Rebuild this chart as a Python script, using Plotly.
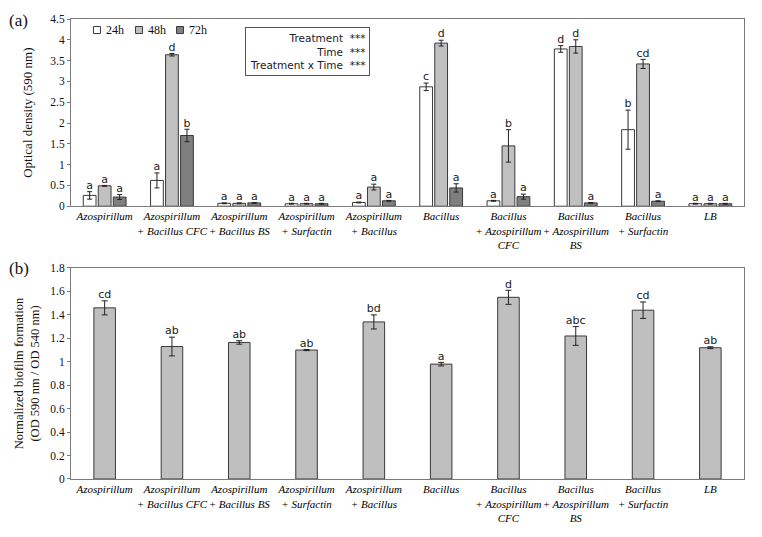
import plotly.graph_objects as go
from plotly.subplots import make_subplots

categories = [
    "Azospirillum",
    "Azospirillum<br>+ Bacillus CFC",
    "Azospirillum<br>+ Bacillus BS",
    "Azospirillum<br>+ Surfactin",
    "Azospirillum<br>+ Bacillus",
    "Bacillus",
    "Bacillus<br>+ Azospirillum<br>CFC",
    "Bacillus<br>+ Azospirillum<br>BS",
    "Bacillus<br>+ Surfactin",
    "LB",
]

od_24h = [0.26, 0.62, 0.07, 0.06, 0.09, 2.87, 0.13, 3.78, 1.84, 0.06]
od_24h_err = [0.09, 0.18, 0.01, 0.01, 0.01, 0.09, 0.01, 0.08, 0.47, 0.01]
od_24h_letters = ["a", "a", "a", "a", "a", "c", "a", "d", "b", "a"]

od_48h = [0.49, 3.64, 0.07, 0.06, 0.46, 3.92, 1.45, 3.84, 3.42, 0.06]
od_48h_err = [0.01, 0.03, 0.01, 0.01, 0.07, 0.07, 0.39, 0.16, 0.11, 0.01]
od_48h_letters = ["a", "d", "a", "a", "a", "d", "b", "d", "cd", "a"]

od_72h = [0.22, 1.70, 0.08, 0.06, 0.13, 0.44, 0.23, 0.08, 0.12, 0.06]
od_72h_err = [0.06, 0.15, 0.01, 0.01, 0.01, 0.10, 0.06, 0.01, 0.01, 0.01]
od_72h_letters = ["a", "b", "a", "a", "a", "a", "a", "a", "a", "a"]

norm_biofilm = [1.46, 1.13, 1.165, 1.10, 1.34, 0.98, 1.55, 1.22, 1.44, 1.12]
norm_err = [0.06, 0.08, 0.015, 0.005, 0.06, 0.015, 0.06, 0.08, 0.07, 0.008]
norm_letters = ["cd", "ab", "ab", "ab", "bd", "a", "d", "abc", "cd", "ab"]

yticks_a = [0, 0.5, 1, 1.5, 2, 2.5, 3, 3.5, 4, 4.5]
ytick_labels_a = ["0", "0.5", "1", "1.5", "2", "2.5", "3", "3.5", "4", "4.5"]
yticks_b = [0, 0.2, 0.4, 0.6, 0.8, 1, 1.2, 1.4, 1.6, 1.8]
ytick_labels_b = ["0", "0.2", "0.4", "0.6", "0.8", "1", "1.2", "1.4", "1.6", "1.8"]

series_names = ["24h", "48h", "72h"]
series_colors = ["#ffffff", "#c0c0c0", "#7f7f7f"]

xpos = list(range(len(categories)))
tick_text = ["<i>" + c.replace("<br>", "</i><br><i>") + "</i>" for c in categories]

SERIF = "Liberation Serif, Times New Roman, serif"
SANS = "DejaVu Sans, Verdana, sans-serif"
EDGE = "#3a3a3a"
FRAME = "#7a7a7a"

fig = make_subplots(rows=2, cols=1, shared_xaxes=False, vertical_spacing=0.13)

bw = 0.19
step = 0.223
series = [
    (od_24h, od_24h_err, od_24h_letters, -step),
    (od_48h, od_48h_err, od_48h_letters, 0.0),
    (od_72h, od_72h_err, od_72h_letters, step),
]

for (vals, errs, letters, off), name, color in zip(series, series_names, series_colors):
    fig.add_trace(go.Bar(
        x=xpos, y=vals, name=name, width=bw, offset=off - bw / 2,
        marker=dict(color=color, line=dict(color=EDGE, width=1)),
        error_y=dict(type="data", array=errs, color="#222", thickness=1, width=2.5),
        showlegend=False,
    ), row=1, col=1)
    fig.add_trace(go.Scatter(
        x=[p + off for p in xpos], y=[v + e for v, e in zip(vals, errs)],
        mode="text", text=letters, textposition="top center",
        textfont=dict(family=SANS, size=11, color="#222"),
        showlegend=False, hoverinfo="skip", cliponaxis=False,
    ), row=1, col=1)

fig.add_trace(go.Bar(
    x=xpos, y=norm_biofilm, width=0.32, showlegend=False,
    marker=dict(color="#bfbfbf", line=dict(color=EDGE, width=1)),
    error_y=dict(type="data", array=norm_err, color="#222", thickness=1, width=3),
), row=2, col=1)
fig.add_trace(go.Scatter(
    x=xpos, y=[v + e for v, e in zip(norm_biofilm, norm_err)],
    mode="text", text=norm_letters, textposition="top center",
    textfont=dict(family=SANS, size=11, color="#222"),
    showlegend=False, hoverinfo="skip", cliponaxis=False,
), row=2, col=1)

axis_common = dict(showline=True, linecolor=FRAME, linewidth=1, mirror=True,
                   showgrid=False, zeroline=False, automargin=False)
for r in (1, 2):
    fig.update_xaxes(range=[-0.5, 9.5], tickvals=xpos, ticktext=tick_text,
                     ticks="", tickangle=0,
                     tickfont=dict(family=SERIF, size=11, color="#000"),
                     row=r, col=1, **axis_common)

fig.update_yaxes(range=[0, 4.5], tickvals=yticks_a, ticktext=ytick_labels_a,
                 ticks="outside", ticklen=3, tickcolor=FRAME,
                 tickfont=dict(family=SERIF, size=11.5, color="#111"),
                 title=dict(text="Optical density (590 nm)", font=dict(family=SERIF, size=13, color="#111"), standoff=14),
                 row=1, col=1, **axis_common)
fig.update_yaxes(range=[0, 1.8], tickvals=yticks_b, ticktext=ytick_labels_b,
                 ticks="outside", ticklen=3, tickcolor=FRAME,
                 tickfont=dict(family=SERIF, size=11.5, color="#111"),
                 title=dict(text="Normalized biofilm formation<br>(OD 590 nm / OD 540 nm)",
                            font=dict(family=SERIF, size=12.5, color="#111"), standoff=7),
                 row=2, col=1, **axis_common)

# manual legend (small squares + labels) in the top panel
legend_x = [0.0386, 0.101, 0.162]
legend_y = 0.976
shapes = []
annotations = []
for lx, name, color in zip(legend_x, series_names, series_colors):
    shapes.append(dict(type="rect", xref="paper", yref="paper",
                       xsizemode="pixel", ysizemode="pixel",
                       xanchor=lx, yanchor=legend_y, x0=-3.5, x1=3.5, y0=-3.5, y1=3.5,
                       line=dict(color=EDGE, width=1), fillcolor=color))
    annotations.append(dict(text=name, xref="paper", yref="paper", x=lx + 0.0105, y=legend_y,
                            xanchor="left", yanchor="middle", showarrow=False,
                            font=dict(family=SERIF, size=12, color="#111")))

annotations += [
    dict(text="Treatment  ***<br>Time  ***<br>Treatment x Time  ***",
         xref="paper", yref="paper", x=0.258, y=0.983, xanchor="left", yanchor="top",
         showarrow=False, align="right", bordercolor="#555", borderwidth=1,
         borderpad=4, font=dict(family=SANS, size=10.5, color="#222"), bgcolor="white"),
    dict(text="(a)", xref="paper", yref="paper", x=-0.095, y=1.022, xanchor="left",
         yanchor="top", showarrow=False, font=dict(family=SERIF, size=17, color="#111")),
    dict(text="(b)", xref="paper", yref="paper", x=-0.095, y=0.482, xanchor="left",
         yanchor="top", showarrow=False, font=dict(family=SERIF, size=17, color="#111")),
]

fig.update_layout(
    width=762, height=537,
    margin=dict(l=71, r=18, t=19, b=58, autoexpand=False),
    plot_bgcolor="white", paper_bgcolor="white",
    barmode="overlay",
    showlegend=False,
    shapes=shapes,
    annotations=annotations,
)

fig.update_yaxes(domain=[0.593, 1.0], row=1, col=1)
fig.update_yaxes(domain=[0.0, 0.4587], row=2, col=1)

fig.write_html("out.html", config={"displayModeBar": False},
               post_script="document.body.style.margin='0';")
